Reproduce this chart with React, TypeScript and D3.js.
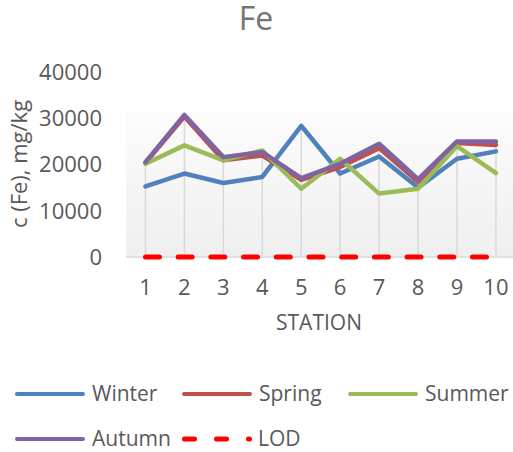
import React from "react";
import * as d3 from "d3";

const stations = ["1", "2", "3", "4", "5", "6", "7", "8", "9", "10"];
const winter = [15300, 18100, 16050, 17350, 28450, 18100, 21800, 15050, 21300, 22900];
const spring = [20450, 30450, 20950, 22000, 16750, 19500, 23600, 16300, 24700, 24300];
const summer = [20200, 24200, 20950, 23100, 14800, 21300, 13750, 14800, 24050, 18200];
const autumn = [20550, 30800, 21650, 22750, 17100, 20200, 24550, 16850, 25050, 25050];
const lod = [0, 0, 0, 0, 0, 0, 0, 0, 0, 0];
const yTicks = [0, 10000, 20000, 30000, 40000];

const series = [
  { name: "Winter", values: winter, color: "#4f81bd" },
  { name: "Spring", values: spring, color: "#c0504d" },
  { name: "Summer", values: summer, color: "#9bbb59" },
  { name: "Autumn", values: autumn, color: "#8064a2" },
];

const W = 513;
const H = 452;
const FONT = "'Open Sans', sans-serif";
const TEXT = "#595959";

export default function App() {
  const x = d3.scaleBand<string>().domain(stations).range([126, 515.4]).paddingInner(0).paddingOuter(0);
  const cx = (s: string) => (x(s) as number) + x.bandwidth() / 2;
  const y = d3.scaleLinear().domain([0, 40000]).range([257, 72.5]);
  const line = d3
    .line<number>()
    .x((_, i) => cx(stations[i]))
    .y((d) => y(d));

  const maxes = stations.map((_, i) => Math.max(...series.map((s) => s.values[i]), lod[i]));

  const legend = [
    { name: "Winter", color: "#4f81bd", x: 15, y: 394 },
    { name: "Spring", color: "#c0504d", x: 182, y: 394 },
    { name: "Summer", color: "#9bbb59", x: 348, y: 394 },
    { name: "Autumn", color: "#8064a2", x: 15, y: 439 },
  ];

  return (
    <div style={{ position: "absolute", left: 0, top: 0 }}>
      <svg width={W} height={H} style={{ display: "block" }}>
        <defs>
          <linearGradient id="bg" x1="0" y1="0" x2="0" y2="1">
            <stop offset="0" stopColor="#fcfcfc" />
            <stop offset="1" stopColor="#efefef" />
          </linearGradient>
        </defs>
        <rect x={0} y={0} width={W} height={H} fill="#ffffff" />
        <text x={256} y={30} textAnchor="middle" fontFamily={FONT} fontSize={32} fill="#757575">
          Fe
        </text>
        <rect x={126} y={112} width={W - 126} height={y(0) - 112} fill="url(#bg)" />
        {/* drop lines */}
        {stations.map((s, i) => (
          <line key={s} x1={cx(s)} x2={cx(s)} y1={y(0)} y2={y(maxes[i])} stroke="#d9d9d9" strokeWidth={1.5} />
        ))}
        <line x1={126} x2={W} y1={y(0)} y2={y(0)} stroke="#d9d9d9" strokeWidth={1.5} />
        {/* y ticks */}
        {yTicks.map((t) => (
          <text key={t} x={102} y={y(t)} dy="0.35em" textAnchor="end" fontFamily={FONT} fontSize={22} fill={TEXT}>
            {t}
          </text>
        ))}
        {/* x ticks */}
        {stations.map((s) => (
          <text key={s} x={cx(s)} y={295} textAnchor="middle" fontFamily={FONT} fontSize={22} fill={TEXT}>
            {s}
          </text>
        ))}
        <text x={319} y={330} textAnchor="middle" fontFamily={FONT} fontSize={21} fill={TEXT}>
          STATION
        </text>
        <text
          transform={`translate(27,164) rotate(-90)`}
          textAnchor="middle"
          fontFamily={FONT}
          fontSize={22}
          fill={TEXT}
        >
          c (Fe), mg/kg
        </text>
        {/* series */}
        {series.map((s) => (
          <path
            key={s.name}
            d={line(s.values) as string}
            fill="none"
            stroke={s.color}
            strokeWidth={4.5}
            strokeLinejoin="round"
            strokeLinecap="round"
          />
        ))}
        <path
          d={line(lod) as string}
          fill="none"
          stroke="#ff0000"
          strokeWidth={5}
          strokeDasharray="14 18.7"
          strokeLinecap="round"
        />
        {/* legend */}
        {legend.map((l) => (
          <g key={l.name}>
            <line x1={17} x2={83} y1={0} y2={0} transform={`translate(${l.x - 15},${l.y})`} stroke={l.color} strokeWidth={4} strokeLinecap="round" />
            <text x={l.x + 77} y={l.y} dy="0.35em" fontFamily={FONT} fontSize={21} fill={TEXT}>
              {l.name}
            </text>
          </g>
        ))}
        <line x1={184.5} x2={249.5} y1={439} y2={439} stroke="#ff0000" strokeWidth={5} strokeDasharray="10 22" strokeLinecap="round" />
        <text x={258} y={439} dy="0.35em" fontFamily={FONT} fontSize={21} fill={TEXT}>
          LOD
        </text>
      </svg>
    </div>
  );
}
